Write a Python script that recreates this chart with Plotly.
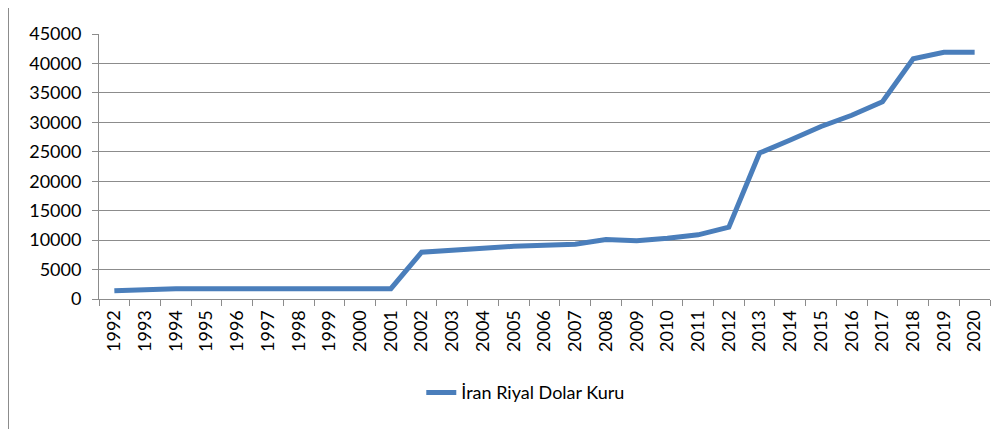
import plotly.graph_objects as go

years = [str(y) for y in range(1992, 2021)]
rates = [1400, 1600, 1750, 1750, 1750, 1750, 1750, 1750, 1750, 1750,
         7950, 8200, 8600, 8950, 9200, 9300, 10100, 9900, 10300, 10900,
         12200, 24800, 27000, 29300, 31200, 33500, 40800, 41900, 41900]
series_name = "İran Riyal Dolar Kuru"

FONT = "Lato"
GRID = "#8c8c8c"
FS = 18

fig = go.Figure()
fig.add_trace(go.Scatter(
    x=years, y=rates, mode="lines", name=series_name,
    line=dict(color="#4a7ebb", width=5),
))

fig.update_layout(
    width=1008, height=429,
    paper_bgcolor="white", plot_bgcolor="white",
    margin=dict(l=91, r=26, t=26, b=138, autoexpand=False),
    font=dict(family=FONT, size=FS, color="#000000"),
    showlegend=True,
    legend=dict(orientation="h", x=0.479, xanchor="center", y=-0.284, yanchor="top",
                font=dict(family=FONT, size=FS, color="#000000"),
                itemwidth=30),
    xaxis=dict(
        type="category", range=[-0.5, 28.5], tickangle=-90,
        tickson="boundaries", ticks="outside", ticklen=6, tickcolor=GRID,
        showline=True, linecolor=GRID, linewidth=1, automargin=False,
        showgrid=False, tickfont=dict(family=FONT, size=FS),
        ticklabelstandoff=3,
    ),
    yaxis=dict(
        range=[0, 45000], dtick=5000, tickformat="d",
        ticks="outside", ticklen=6, tickcolor=GRID,
        showline=True, linecolor=GRID, linewidth=1, automargin=False,
        showgrid=True, gridcolor=GRID, gridwidth=1,
        zeroline=False, tickfont=dict(family=FONT, size=FS),
        ticklabelstandoff=7,
    ),
    shapes=[
        dict(type="line", xref="paper", yref="paper",
             x0=(8 - 99) / 891, x1=(1001 - 99) / 891,
             y0=(299 - 5.5) / 265, y1=(299 - 5.5) / 265,
             line=dict(color="#8c8c8c", width=1)),
        dict(type="line", xref="paper", yref="paper",
             x0=(8.5 - 99) / 891, x1=(8.5 - 99) / 891,
             y0=(299 - 5.5) / 265, y1=(299 - 440) / 265,
             line=dict(color="#8c8c8c", width=1)),
    ],
)

fig.write_html("out.html")
